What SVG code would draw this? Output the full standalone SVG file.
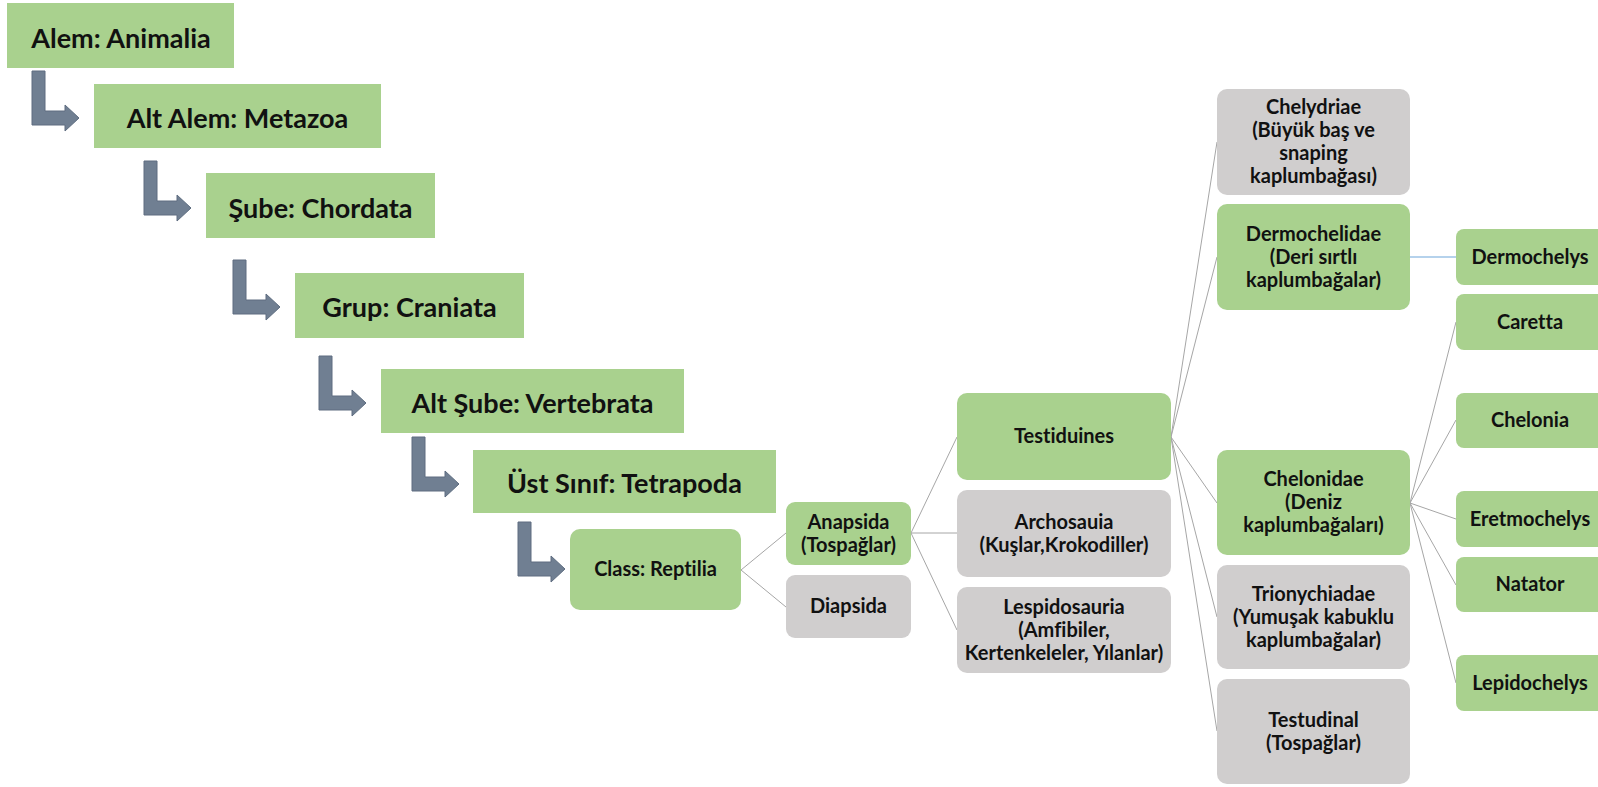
<svg xmlns="http://www.w3.org/2000/svg" width="1598" height="787" viewBox="0 0 1598 787">
<style>
.g{fill:#a9d18e}
.s{fill:#d0cece}
text{font-family:Lato,"Liberation Sans",sans-serif;font-weight:700;fill:#111;text-anchor:middle;font-variant-ligatures:none;font-feature-settings:"liga" 0}
.big{font-size:27px}
.sm{font-size:20px}
.ln{stroke:#a6a6a6;stroke-width:1;fill:none}
.arr{fill:#707f92;stroke:#5e6d80;stroke-width:1}
</style>
<defs>
<path id="bent" d="M0,0 H13 V40 H33 V34 L47,47 L33,60 V54 H0 Z"/>
</defs>
<rect width="1598" height="787" fill="#fff"/>
<g id="connectors">
<use href="#bent" class="arr" x="32" y="71"/>
<use href="#bent" class="arr" x="144" y="161"/>
<use href="#bent" class="arr" x="233" y="260"/>
<use href="#bent" class="arr" x="319" y="356"/>
<use href="#bent" class="arr" x="412" y="437"/>
<use href="#bent" class="arr" x="518" y="522"/>
<path class="ln" d="M741,570 L786,533 M741,570 L786,607"/>
<path class="ln" d="M911,533 L957,437 M911,533 L957,533 M911,533 L957,630"/>
<path class="ln" d="M1171,437 L1217,142 M1171,437 L1217,257 M1171,437 L1217,503 M1171,437 L1217,617 M1171,437 L1217,731"/>
<path d="M1410,257 L1456,257" stroke="#9dc3e6" stroke-width="1.5" fill="none"/>
<path class="ln" d="M1410,503 L1456,322 M1410,503 L1456,420 M1410,503 L1456,519 M1410,503 L1456,585 M1410,503 L1456,683"/>
</g>
<g id="n-alem"><rect class="g" x="7" y="3" width="227" height="65"/><text class="big" x="121" y="48">Alem: Animalia</text></g>
<g id="n-altalem"><rect class="g" x="94" y="84" width="287" height="64"/><text class="big" x="237.5" y="128">Alt Alem: Metazoa</text></g>
<g id="n-sube"><rect class="g" x="206" y="173" width="229" height="65"/><text class="big" x="320.5" y="218">Şube: Chordata</text></g>
<g id="n-grup"><rect class="g" x="295" y="273" width="229" height="65"/><text class="big" x="409.5" y="317">Grup: Craniata</text></g>
<g id="n-altsube"><rect class="g" x="381" y="369" width="303" height="64"/><text class="big" x="532.5" y="413">Alt Şube: Vertebrata</text></g>
<g id="n-ustsinif"><rect class="g" x="473" y="450" width="303" height="63"/><text class="big" x="624.5" y="493">Üst Sınıf: Tetrapoda</text></g>
<g id="n-class"><rect class="g" x="570" y="529" width="171" height="81" rx="10"/><text class="sm" x="655.5" y="576">Class: Reptilia</text></g>
<g id="n-anapsida"><rect class="g" x="786" y="502" width="125" height="63" rx="9"/><text class="sm" x="848.5" y="528.5">Anapsida</text><text class="sm" x="848.5" y="551.5">(Tospağlar)</text></g>
<g id="n-diapsida"><rect class="s" x="786" y="575" width="125" height="63" rx="9"/><text class="sm" x="848.5" y="613">Diapsida</text></g>
<g id="n-testiduines"><rect class="g" x="957" y="393" width="214" height="87" rx="10"/><text class="sm" x="1064" y="443">Testiduines</text></g>
<g id="n-archosauia"><rect class="s" x="957" y="490" width="214" height="87" rx="10"/><text class="sm" x="1064" y="528.5">Archosauia</text><text class="sm" x="1064" y="551.5">(Kuşlar,Krokodiller)</text></g>
<g id="n-lespidosauria"><rect class="s" x="957" y="587" width="214" height="86" rx="10"/><text class="sm" x="1064" y="613.5">Lespidosauria</text><text class="sm" x="1064" y="636.5">(Amfibiler,</text><text class="sm" x="1064" y="659.5">Kertenkeleler, Yılanlar)</text></g>
<g id="n-chelydriae"><rect class="s" x="1217" y="89" width="193" height="106" rx="10"/><text class="sm" x="1313.5" y="114">Chelydriae</text><text class="sm" x="1313.5" y="137">(Büyük baş ve</text><text class="sm" x="1313.5" y="160">snaping</text><text class="sm" x="1313.5" y="183">kaplumbağası)</text></g>
<g id="n-dermochelidae"><rect class="g" x="1217" y="204" width="193" height="106" rx="10"/><text class="sm" x="1313.5" y="240.5">Dermochelidae</text><text class="sm" x="1313.5" y="263.5">(Deri sırtlı</text><text class="sm" x="1313.5" y="286.5">kaplumbağalar)</text></g>
<g id="n-chelonidae"><rect class="g" x="1217" y="450" width="193" height="105" rx="10"/><text class="sm" x="1313.5" y="486">Chelonidae</text><text class="sm" x="1313.5" y="509">(Deniz</text><text class="sm" x="1313.5" y="532">kaplumbağaları)</text></g>
<g id="n-trionychiadae"><rect class="s" x="1217" y="565" width="193" height="104" rx="10"/><text class="sm" x="1313.5" y="600.5">Trionychiadae</text><text class="sm" x="1313.5" y="623.5">(Yumuşak kabuklu</text><text class="sm" x="1313.5" y="646.5">kaplumbağalar)</text></g>
<g id="n-testudinal"><rect class="s" x="1217" y="679" width="193" height="105" rx="10"/><text class="sm" x="1313.5" y="726.5">Testudinal</text><text class="sm" x="1313.5" y="749.5">(Tospağlar)</text></g>
<g id="n-dermochelys"><rect class="g" x="1456" y="229" width="150" height="56" rx="8"/><text class="sm" x="1530" y="263.5">Dermochelys</text></g>
<g id="n-caretta"><rect class="g" x="1456" y="294" width="150" height="56" rx="8"/><text class="sm" x="1530" y="328.5">Caretta</text></g>
<g id="n-chelonia"><rect class="g" x="1456" y="393" width="150" height="55" rx="8"/><text class="sm" x="1530" y="427">Chelonia</text></g>
<g id="n-eretmochelys"><rect class="g" x="1456" y="491" width="150" height="56" rx="8"/><text class="sm" x="1530" y="525.5">Eretmochelys</text></g>
<g id="n-natator"><rect class="g" x="1456" y="557" width="150" height="55" rx="8"/><text class="sm" x="1530" y="591">Natator</text></g>
<g id="n-lepidochelys"><rect class="g" x="1456" y="655" width="150" height="56" rx="8"/><text class="sm" x="1530" y="689.5">Lepidochelys</text></g>
</svg>
